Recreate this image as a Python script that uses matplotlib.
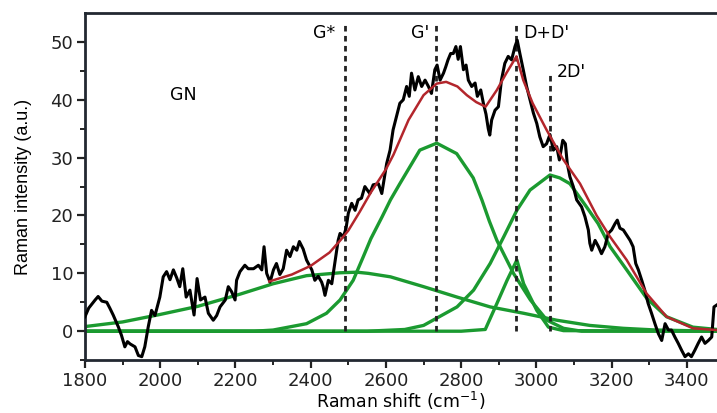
import numpy as np
import matplotlib
matplotlib.use('Agg')
import matplotlib.pyplot as plt

plt.rcParams['font.family'] = ['DejaVu Sans']

shift = [1800, 1810, 1827, 1835, 1845, 1858, 1866, 1875, 1889, 1897, 1906, 1913, 1920, 1933,
         1942, 1951, 1959, 1968, 1977, 1986, 1999, 2008, 2017, 2026, 2035, 2044, 2052, 2060,
         2069, 2079, 2090, 2098, 2107, 2119, 2128, 2141, 2150, 2159, 2173, 2181, 2190, 2199,
         2203, 2212, 2225, 2234, 2248, 2261, 2270, 2276, 2283, 2292, 2301, 2309, 2318, 2327,
         2336, 2345, 2354, 2363, 2370, 2380, 2389, 2403, 2411, 2420, 2429, 2433, 2438, 2447,
         2456, 2464, 2473, 2478, 2487, 2494, 2500, 2509, 2518, 2526, 2535, 2544, 2557, 2566,
         2580, 2589, 2602, 2611, 2619, 2628, 2637, 2646, 2655, 2662, 2668, 2677, 2686, 2695,
         2704, 2713, 2721, 2730, 2736, 2744, 2753, 2759, 2765, 2772, 2779, 2786, 2792, 2798,
         2806, 2813, 2819, 2828, 2837, 2843, 2852, 2859, 2866, 2872, 2876, 2881, 2890, 2899,
         2907, 2916, 2925, 2934, 2943, 2949, 2956, 2965, 2974, 2983, 2992, 3001, 3009, 3018,
         3027, 3036, 3045, 3054, 3061, 3070, 3077, 3082, 3089, 3098, 3107, 3120, 3129, 3138,
         3142, 3147, 3156, 3165, 3173, 3182, 3191, 3200, 3209, 3215, 3222, 3231, 3240, 3249,
         3257, 3264, 3271, 3280, 3288, 3297, 3306, 3315, 3324, 3333, 3342, 3351, 3359, 3368,
         3377, 3386, 3395, 3404, 3412, 3421, 3430, 3439, 3448, 3457, 3466, 3472, 3481]
inten = [2.5, 4.0, 5.4, 6.0, 5.2, 5.0, 4.0, 2.8, 0.7, -0.7, -2.7, -1.8, -2.2, -2.7,
         -4.2, -4.4, -2.7, 0.7, 3.6, 2.7, 5.9, 9.4, 10.3, 8.9, 10.6, 9.2, 7.7, 10.8,
         5.9, 7.1, 2.8, 9.1, 5.4, 5.9, 3.1, 1.9, 2.7, 4.2, 5.4, 7.7, 6.8, 5.4,
         8.8, 10.3, 11.4, 10.8, 10.8, 11.4, 10.6, 14.6, 10.0, 8.5, 10.6, 11.7, 9.8, 10.8,
         14.0, 12.9, 14.6, 14.0, 15.5, 14.2, 12.3, 10.6, 8.8, 9.5, 8.5, 7.7, 6.2, 8.8,
         8.2, 11.7, 15.7, 16.9, 16.3, 17.8, 20.4, 22.1, 20.9, 22.7, 23.0, 25.0, 23.8, 25.3,
         25.5, 23.8, 29.0, 31.3, 34.8, 37.1, 39.4, 40.0, 42.3, 40.6, 44.6, 41.7, 44.0, 42.3,
         43.4, 42.3, 41.1, 45.2, 46.0, 43.4, 44.6, 45.7, 46.9, 48.0, 48.0, 49.2, 47.0, 49.2,
         45.2, 46.0, 43.4, 42.3, 42.9, 40.6, 41.7, 39.4, 37.5, 35.0, 33.9, 36.5, 38.2, 38.8,
         43.4, 46.3, 47.5, 46.9, 49.2, 50.3, 48.0, 45.2, 42.3, 40.0, 37.7, 35.9, 33.6, 31.9,
         32.4, 34.0, 31.3, 31.9, 29.6, 33.0, 32.4, 29.0, 26.7, 25.0, 22.7, 21.5, 19.8, 17.5,
         15.2, 14.0, 15.7, 14.6, 13.4, 14.6, 16.9, 17.5, 18.6, 19.2, 17.8, 17.5, 16.6, 15.7,
         14.6, 11.7, 10.6, 8.8, 7.1, 4.8, 3.1, 1.3, -0.4, -1.6, 1.3, 0.2, 0.2, -1.0,
         -2.1, -3.3, -4.4, -3.9, -4.4, -3.3, -2.1, -1.0, -2.1, -1.6, -1.0, 4.2, 4.6]

# cumulative fit (red)
fit_x = [2290, 2350, 2400, 2450, 2480, 2500, 2530, 2560, 2600, 2620, 2660, 2700, 2735, 2760,
         2790, 2815, 2840, 2865, 2895, 2920, 2947, 2965, 2990, 3027, 3070, 3116, 3160, 3196,
         3240, 3293, 3346, 3416, 3480]
fit_y = [8.6, 9.8, 11.3, 13.6, 15.8, 17.4, 20.6, 24.0, 28.0, 30.5, 36.5, 40.8, 42.8, 43.1,
         42.3, 40.8, 39.6, 38.8, 41.7, 44.6, 47.5, 43.4, 39.4, 34.8, 29.8, 25.5, 20.0, 16.3,
         12.3, 6.5, 2.5, 0.5, 0.2]

# fitted components (green)
gn_x = [1800, 1900, 2000, 2100, 2212, 2300, 2389, 2478, 2523, 2553, 2612, 2700, 2789, 2877,
        2966, 3054, 3142, 3231, 3320, 3400, 3480]
gn_y = [0.8, 1.6, 2.9, 4.3, 6.4, 8.2, 9.6, 10.1, 10.2, 10.0, 9.4, 7.7, 5.9, 4.2,
        3.1, 1.9, 1.0, 0.5, 0.2, 0.1, 0.1]

g1_x = [1800, 2250, 2300, 2389, 2442, 2478, 2513, 2540, 2560, 2590, 2612, 2637, 2690, 2735,
        2788, 2832, 2855, 2875, 2895, 2939, 2984, 3028, 3072, 3120, 3480]
g1_y = [0.0, 0.0, 0.2, 1.3, 3.1, 5.4, 8.8, 12.9, 16.0, 19.8, 22.7, 25.5, 31.3, 32.5,
        30.7, 26.5, 22.7, 19.0, 15.7, 10.0, 5.4, 1.9, 0.5, 0.0, 0.0]

g2_x = [1800, 2800, 2864, 2895, 2922, 2948, 2966, 3001, 3032, 3072, 3480]
g2_y = [0.0, 0.0, 0.3, 4.8, 8.8, 12.3, 8.2, 3.6, 0.7, 0.1, 0.0]

g3_x = [1800, 2550, 2650, 2700, 2789, 2833, 2877, 2913, 2948, 2983, 3036, 3062, 3089, 3133,
        3164, 3196, 3240, 3293, 3346, 3416, 3480]
g3_y = [0.0, 0.0, 0.3, 1.0, 4.2, 7.1, 11.7, 16.3, 20.9, 24.4, 27.0, 26.5, 25.5, 21.5,
        18.6, 14.6, 10.6, 5.7, 2.5, 0.7, 0.3]

# band positions and labels
band_pos = [2491, 2733, 2946, 3037]
band_top = [53, 53, 53, 45]
band_lab = ['G*', "G'", "D+D'", "2D'"]

green = '#1b9a30'
red = '#b3262c'

fig = plt.figure(figsize=(7.17, 4.13), dpi=100)
ax = fig.add_axes([0.1185, 0.128, 0.8815, 0.8405])

for xs, ys in [(gn_x, gn_y), (g1_x, g1_y), (g2_x, g2_y), (g3_x, g3_y)]:
    ax.plot(xs, ys, color=green, lw=2.4, zorder=2)

for p, t in zip(band_pos, band_top):
    ax.plot([p, p], [0, t], color='#222222', lw=2, ls=(0, (2, 1.6)), zorder=3)

ax.plot(shift, inten, color='black', lw=2.2, zorder=4)
ax.plot(fit_x, fit_y, color=red, lw=1.8, zorder=5)

ax.text(2436, 51.6, band_lab[0], fontsize=12.5, ha='center', va='center')
ax.text(2690, 51.6, band_lab[1], fontsize=12.5, ha='center', va='center')
ax.text(2965, 51.6, band_lab[2], fontsize=12.5, ha='left', va='center')
ax.text(3053, 44.8, band_lab[3], fontsize=12.5, ha='left', va='center')
ax.text(2061, 40.8, 'GN', fontsize=12.5, ha='center', va='center')

ax.set_xlim(1800, 3480)
ax.set_ylim(-5, 55)
ax.set_xticks(np.arange(1800, 3401, 200))
ax.set_xticks(np.arange(1900, 3480, 200), minor=True)
ax.set_yticks(np.arange(0, 51, 10))
ax.set_yticks(np.arange(-5, 55, 10), minor=True)
ax.tick_params(axis='both', which='major', direction='out', length=5.5, width=1.6,
               labelsize=13, colors='#222222')
ax.tick_params(axis='both', which='minor', direction='out', length=3.5, width=1.4,
               colors='#222222')
ax.tick_params(axis='x', pad=3)
ax.tick_params(axis='y', pad=3)

ax.spines['right'].set_visible(False)
for s in ['left', 'bottom', 'top']:
    ax.spines[s].set_linewidth(2)
    ax.spines[s].set_color('#222831')

ax.set_xlabel('Raman shift (cm$^{-1}$)', fontsize=12.5, labelpad=0)
ax.set_ylabel('Raman intensity (a.u.)', fontsize=13, labelpad=13,
              family='Liberation Sans')

fig.savefig('out.png', dpi=100)
